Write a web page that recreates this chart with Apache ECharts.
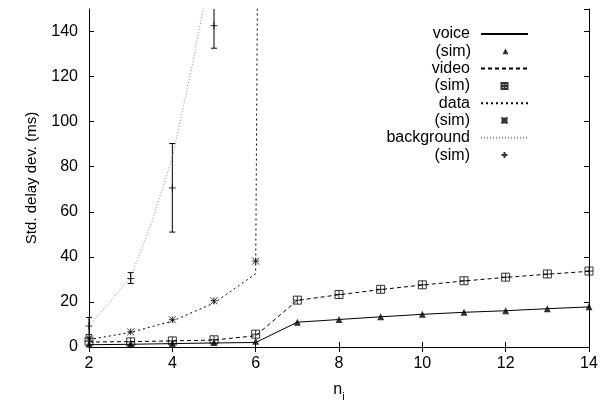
<!DOCTYPE html>
<html><head><meta charset="utf-8">
<script src="https://cdn.jsdelivr.net/npm/echarts@6/dist/echarts.min.js"></script>
<style>html,body{margin:0;padding:0;background:#fff}#c{width:602px;height:407px}</style>
</head><body><div id="c"></div>
<script>
// ---- data ----
const nValues = [2,3,4,5,6,7,8,9,10,11,12,13,14];
const voiceModel = [1.0,1.2,1.5,1.8,2.0,11.0,12.2,13.4,14.5,15.4,16.1,17.0,17.8];
const voiceSim   = [1.3,1.4,1.7,2.0,2.5,11.0,12.2,13.4,14.5,15.4,16.1,17.0,17.9];
const videoModel = [2.2,2.4,2.7,3.1,5.0,20.7,23.2,25.5,27.5,29.3,30.9,32.3,33.6];
const videoSim   = [2.6,2.3,2.7,3.2,5.7,20.8,23.3,25.6,27.6,29.4,31.0,32.4,33.7];
const dataModelN = [2,3,4,5,6,7];
const dataModel  = [3.3,6.5,11.5,19.5,32.5,3000];
const dataSimN   = [2,3,4,5,6];
const dataSim    = [3.8,6.7,12.1,20.5,38.1];
const bgModelN   = [2,2.5,3,3.5,4,4.5,5,5.5];
const bgModel    = [9.5,20,31,55,84,127,175,240];
const bgSimN     = [2,3,4,5];
const bgSim      = [9.3,30.4,70.6,142.6];
const bgSimLow   = [5.5,28.2,51.0,132.6];
const bgSimHigh  = [13.1,33.0,90.3,152.6];
const xTicks = {min:2, max:14, step:2};
const yTicks = {min:0, max:150, step:20};

// ---- helpers ----
const zip = (xs, ys) => xs.map((x,i)=>[x, ys[i]]);
const FONT = 'Liberation Sans';
const SYM_SQUARE = 'path://M0,0L10,0L10,10L0,10Z M5,0L5,10 M0,5L10,5';
const SYM_STAR = 'path://M0,0L10,10 M10,0L0,10 M5,0L5,10 M0,5L10,5';
const SYM_PLUS = 'path://M5,0L5,10 M0,5L10,5';

function lineSeries(name, data, type, color){
  return {name, type:'line', data, symbol:'none', clip:true, silent:true,
    lineStyle:{color, width:1, type}, itemStyle:{color}, animation:false};
}
function simSeries(name, data, symbol, size, filled){
  return {name, type:'scatter', data, symbol, symbolSize:size, symbolKeepAspect:true, silent:true, animation:false,
    itemStyle: filled ? {color:'#000'} : {color:'rgba(0,0,0,0)', borderColor:'#000', borderWidth:1}};
}

const errData = bgSimN.map((x,i)=>[x, bgSimLow[i], bgSimHigh[i]]);
const errSeries = {
  type:'custom', data: errData, silent:true, animation:false, z:3,
  renderItem(params, api){
    const x = api.value(0), lo = api.value(1), hi = api.value(2);
    const p1 = api.coord([x, lo]), p2 = api.coord([x, hi]);
    const topY = params.coordSys.y;
    const y2 = Math.max(p2[1], topY);
    const w = 3;
    const children = [
      {type:'line', shape:{x1:p1[0], y1:p1[1], x2:p1[0], y2:y2}, style:{stroke:'#000', lineWidth:1}},
      {type:'line', shape:{x1:p1[0]-w, y1:p1[1], x2:p1[0]+w, y2:p1[1]}, style:{stroke:'#000', lineWidth:1}}
    ];
    if (p2[1] >= topY) children.push({type:'line', shape:{x1:p2[0]-w, y1:p2[1], x2:p2[0]+w, y2:p2[1]}, style:{stroke:'#000', lineWidth:1}});
    return {type:'group', children};
  }
};

// legend rows: [series name, shown text, icon size (0 = line sample)]
const legendRows = [
  ['voice','voice',0], ['voice (sim)','(sim)',6],
  ['video','video',0], ['video (sim)','(sim)',6],
  ['data','data',0], ['data (sim)','(sim)',6],
  ['background','background',0], ['background (sim)','(sim)',6]
];
const LEG_RIGHT = 73, LEG_W = 47, LEG_GAP = 6;
const legends = legendRows.map((r,i)=>{
  const isLine = r[2] === 0;
  const s = isLine ? LEG_W : r[2];
  const off = (LEG_W - s)/2;
  return {
    data:[r[0]], formatter:()=>r[1], orient:'vertical', align:'right',
    right: LEG_RIGHT + off, top: 34 + i*17.3 - 9, padding:0,
    itemWidth: s, itemHeight: isLine ? 10 : s,
    selectedMode:false,
    itemStyle: isLine ? {opacity:0} : {},
    textStyle:{fontFamily:FONT, fontSize:16, color:'#000', lineHeight:18, padding:[0, LEG_GAP + off, 0, 0]}
  };
});

const axisCommon = {
  type:'value', axisLine:{show:true, lineStyle:{color:'#000', width:1}},
  axisTick:{show:true, inside:true, length:5, lineStyle:{color:'#000'}},
  splitLine:{show:false}
};

const option = {
  animation:false,
  grid:{left:89, right:13, top:9, bottom:54},
  legend: legends,
  xAxis:[
    Object.assign({}, axisCommon, {position:'bottom', min:xTicks.min, max:xTicks.max, interval:xTicks.step,
      axisLabel:{fontFamily:FONT, fontSize:16, color:'#000', margin:9},
      name:'{n|n}{i|i}', nameLocation:'middle', nameGap:30,
      nameTextStyle:{fontFamily:FONT, color:'#000', rich:{
        n:{fontFamily:FONT, fontSize:16, color:'#000'},
        i:{fontFamily:FONT, fontSize:11, color:'#000', padding:[14,0,0,0]}}}}),
    Object.assign({}, axisCommon, {position:'top', min:xTicks.min, max:xTicks.max, interval:xTicks.step,
      axisLabel:{show:false}})
  ],
  yAxis:[
    Object.assign({}, axisCommon, {position:'left', min:yTicks.min, max:yTicks.max, interval:yTicks.step,
      axisLabel:{fontFamily:FONT, fontSize:16, color:'#000', margin:11, showMaxLabel:false},
      name:'Std. delay dev. (ms)', nameLocation:'middle', nameGap:50,
      nameTextStyle:{fontFamily:FONT, fontSize:15, color:'#000'}}),
    Object.assign({}, axisCommon, {position:'right', min:yTicks.min, max:yTicks.max, interval:yTicks.step,
      axisLabel:{show:false}})
  ],
  series:[
    lineSeries('voice', zip(nValues, voiceModel), 'solid', '#000'),
    simSeries('voice (sim)', zip(nValues, voiceSim), 'triangle', 7, true),
    lineSeries('video', zip(nValues, videoModel), [4,3], '#000'),
    simSeries('video (sim)', zip(nValues, videoSim), SYM_SQUARE, 8, false),
    lineSeries('data', zip(dataModelN, dataModel), [2,3], '#000'),
    simSeries('data (sim)', zip(dataSimN, dataSim), SYM_STAR, 7, false),
    lineSeries('background', zip(bgModelN, bgModel), [1,2], '#888'),
    errSeries,
    simSeries('background (sim)', zip(bgSimN, bgSim), SYM_PLUS, 7, false)
  ]
};
const chart = echarts.init(document.getElementById('c'), null, {renderer:'canvas'});
chart.setOption(option);
</script></body></html>
